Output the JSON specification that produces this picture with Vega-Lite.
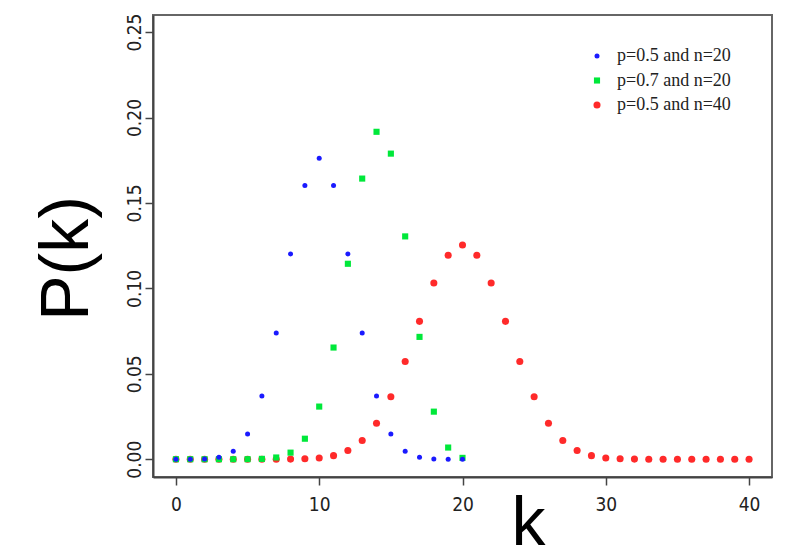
{
  "$schema": "https://vega.github.io/schema/vega-lite/v6.json",
  "width": 619,
  "height": 462,
  "autosize": {"type": "none"},
  "padding": {"left": 153, "top": 15, "right": 19, "bottom": 82},
  "background": "white",
  "config": {
    "view": {"stroke": "#666", "strokeWidth": 2},
    "axis": {
      "domainColor": "#444",
      "domainWidth": 2,
      "tickColor": "#444",
      "tickWidth": 1.5,
      "tickSize": 8,
      "grid": false,
      "labelFont": "Liberation Sans Narrow, DejaVu Sans Condensed, Liberation Sans",
      "labelFontSize": 19,
      "labelColor": "#222",
      "titleFont": "Liberation Sans",
      "titleFontWeight": "normal",
      "titleFontSize": 68,
      "titleColor": "#000"
    },
    "legend": {
      "labelFont": "Liberation Serif",
      "labelFontSize": 18,
      "labelColor": "#222"
    }
  },
  "data": {
    "values": [
      {"series": "p=0.5 and n=40", "k": 0, "p": 0.0},
      {"series": "p=0.5 and n=40", "k": 1, "p": 0.0},
      {"series": "p=0.5 and n=40", "k": 2, "p": 0.0},
      {"series": "p=0.5 and n=40", "k": 3, "p": 0.0},
      {"series": "p=0.5 and n=40", "k": 4, "p": 0.0},
      {"series": "p=0.5 and n=40", "k": 5, "p": 0.0},
      {"series": "p=0.5 and n=40", "k": 6, "p": 0.000003},
      {"series": "p=0.5 and n=40", "k": 7, "p": 0.000017},
      {"series": "p=0.5 and n=40", "k": 8, "p": 0.00007},
      {"series": "p=0.5 and n=40", "k": 9, "p": 0.000249},
      {"series": "p=0.5 and n=40", "k": 10, "p": 0.000771},
      {"series": "p=0.5 and n=40", "k": 11, "p": 0.002103},
      {"series": "p=0.5 and n=40", "k": 12, "p": 0.005081},
      {"series": "p=0.5 and n=40", "k": 13, "p": 0.010944},
      {"series": "p=0.5 and n=40", "k": 14, "p": 0.021107},
      {"series": "p=0.5 and n=40", "k": 15, "p": 0.036585},
      {"series": "p=0.5 and n=40", "k": 16, "p": 0.057164},
      {"series": "p=0.5 and n=40", "k": 17, "p": 0.080702},
      {"series": "p=0.5 and n=40", "k": 18, "p": 0.103119},
      {"series": "p=0.5 and n=40", "k": 19, "p": 0.119401},
      {"series": "p=0.5 and n=40", "k": 20, "p": 0.125371},
      {"series": "p=0.5 and n=40", "k": 21, "p": 0.119401},
      {"series": "p=0.5 and n=40", "k": 22, "p": 0.103119},
      {"series": "p=0.5 and n=40", "k": 23, "p": 0.080702},
      {"series": "p=0.5 and n=40", "k": 24, "p": 0.057164},
      {"series": "p=0.5 and n=40", "k": 25, "p": 0.036585},
      {"series": "p=0.5 and n=40", "k": 26, "p": 0.021107},
      {"series": "p=0.5 and n=40", "k": 27, "p": 0.010944},
      {"series": "p=0.5 and n=40", "k": 28, "p": 0.005081},
      {"series": "p=0.5 and n=40", "k": 29, "p": 0.002103},
      {"series": "p=0.5 and n=40", "k": 30, "p": 0.000771},
      {"series": "p=0.5 and n=40", "k": 31, "p": 0.000249},
      {"series": "p=0.5 and n=40", "k": 32, "p": 0.00007},
      {"series": "p=0.5 and n=40", "k": 33, "p": 0.000017},
      {"series": "p=0.5 and n=40", "k": 34, "p": 0.000003},
      {"series": "p=0.5 and n=40", "k": 35, "p": 0.0},
      {"series": "p=0.5 and n=40", "k": 36, "p": 0.0},
      {"series": "p=0.5 and n=40", "k": 37, "p": 0.0},
      {"series": "p=0.5 and n=40", "k": 38, "p": 0.0},
      {"series": "p=0.5 and n=40", "k": 39, "p": 0.0},
      {"series": "p=0.5 and n=40", "k": 40, "p": 0.0},
      {"series": "p=0.7 and n=20", "k": 0, "p": 0.0},
      {"series": "p=0.7 and n=20", "k": 1, "p": 0.0},
      {"series": "p=0.7 and n=20", "k": 2, "p": 0.0},
      {"series": "p=0.7 and n=20", "k": 3, "p": 0.0},
      {"series": "p=0.7 and n=20", "k": 4, "p": 0.000005},
      {"series": "p=0.7 and n=20", "k": 5, "p": 0.000037},
      {"series": "p=0.7 and n=20", "k": 6, "p": 0.000218},
      {"series": "p=0.7 and n=20", "k": 7, "p": 0.001018},
      {"series": "p=0.7 and n=20", "k": 8, "p": 0.003859},
      {"series": "p=0.7 and n=20", "k": 9, "p": 0.012007},
      {"series": "p=0.7 and n=20", "k": 10, "p": 0.030817},
      {"series": "p=0.7 and n=20", "k": 11, "p": 0.06537},
      {"series": "p=0.7 and n=20", "k": 12, "p": 0.114397},
      {"series": "p=0.7 and n=20", "k": 13, "p": 0.164262},
      {"series": "p=0.7 and n=20", "k": 14, "p": 0.191639},
      {"series": "p=0.7 and n=20", "k": 15, "p": 0.178863},
      {"series": "p=0.7 and n=20", "k": 16, "p": 0.130421},
      {"series": "p=0.7 and n=20", "k": 17, "p": 0.071604},
      {"series": "p=0.7 and n=20", "k": 18, "p": 0.027846},
      {"series": "p=0.7 and n=20", "k": 19, "p": 0.006839},
      {"series": "p=0.7 and n=20", "k": 20, "p": 0.000798},
      {"series": "p=0.5 and n=20", "k": 0, "p": 0.000001},
      {"series": "p=0.5 and n=20", "k": 1, "p": 0.000019},
      {"series": "p=0.5 and n=20", "k": 2, "p": 0.000181},
      {"series": "p=0.5 and n=20", "k": 3, "p": 0.001087},
      {"series": "p=0.5 and n=20", "k": 4, "p": 0.004621},
      {"series": "p=0.5 and n=20", "k": 5, "p": 0.014786},
      {"series": "p=0.5 and n=20", "k": 6, "p": 0.036964},
      {"series": "p=0.5 and n=20", "k": 7, "p": 0.073929},
      {"series": "p=0.5 and n=20", "k": 8, "p": 0.120134},
      {"series": "p=0.5 and n=20", "k": 9, "p": 0.160179},
      {"series": "p=0.5 and n=20", "k": 10, "p": 0.176197},
      {"series": "p=0.5 and n=20", "k": 11, "p": 0.160179},
      {"series": "p=0.5 and n=20", "k": 12, "p": 0.120134},
      {"series": "p=0.5 and n=20", "k": 13, "p": 0.073929},
      {"series": "p=0.5 and n=20", "k": 14, "p": 0.036964},
      {"series": "p=0.5 and n=20", "k": 15, "p": 0.014786},
      {"series": "p=0.5 and n=20", "k": 16, "p": 0.004621},
      {"series": "p=0.5 and n=20", "k": 17, "p": 0.001087},
      {"series": "p=0.5 and n=20", "k": 18, "p": 0.000181},
      {"series": "p=0.5 and n=20", "k": 19, "p": 0.000019},
      {"series": "p=0.5 and n=20", "k": 20, "p": 0.000001}
    ]
  },
  "mark": {"type": "point", "filled": true, "opacity": 1},
  "encoding": {
    "x": {
      "field": "k",
      "type": "quantitative",
      "scale": {"domain": [-1.6, 41.6], "nice": false, "zero": false},
      "axis": {
        "values": [0, 10, 20, 30, 40],
        "title": "k",
        "labelPadding": 10,
        "titleX": 375,
        "titleY": 67,
        "titleAlign": "center",
        "titleBaseline": "alphabetic"
      }
    },
    "y": {
      "field": "p",
      "type": "quantitative",
      "scale": {"domain": [-0.0104, 0.26], "nice": false, "zero": false},
      "axis": {
        "values": [0, 0.05, 0.1, 0.15, 0.2, 0.25],
        "format": ".2f",
        "title": "P(k)",
        "labelAngle": 270,
        "labelAlign": "center",
        "labelBaseline": "alphabetic",
        "labelPadding": 5,
        "titleAngle": 270,
        "titleX": -66,
        "titleY": 243,
        "titleAlign": "center",
        "titleBaseline": "alphabetic"
      }
    },
    "color": {
      "field": "series",
      "type": "nominal",
      "scale": {
        "domain": ["p=0.5 and n=20", "p=0.7 and n=20", "p=0.5 and n=40"],
        "range": ["#1a1aff", "#00e83a", "#ff2a2a"]
      },
      "legend": {
        "title": null,
        "orient": "none",
        "legendX": 435,
        "legendY": 32,
        "padding": 0,
        "symbolOffset": 0,
        "labelOffset": 11,
        "rowPadding": 6.5
      }
    },
    "shape": {
      "field": "series",
      "type": "nominal",
      "scale": {
        "domain": ["p=0.5 and n=20", "p=0.7 and n=20", "p=0.5 and n=40"],
        "range": ["circle", "square", "circle"]
      },
      "legend": {
        "title": null,
        "orient": "none",
        "legendX": 435,
        "legendY": 32,
        "padding": 0,
        "symbolOffset": 0,
        "labelOffset": 11,
        "rowPadding": 6.5
      }
    },
    "size": {
      "field": "series",
      "type": "nominal",
      "scale": {
        "domain": ["p=0.5 and n=20", "p=0.7 and n=20", "p=0.5 and n=40"],
        "range": [25, 50, 80]
      },
      "legend": {
        "title": null,
        "orient": "none",
        "legendX": 435,
        "legendY": 32,
        "padding": 0,
        "symbolOffset": 0,
        "labelOffset": 11,
        "rowPadding": 6.5
      }
    }
  }
}
